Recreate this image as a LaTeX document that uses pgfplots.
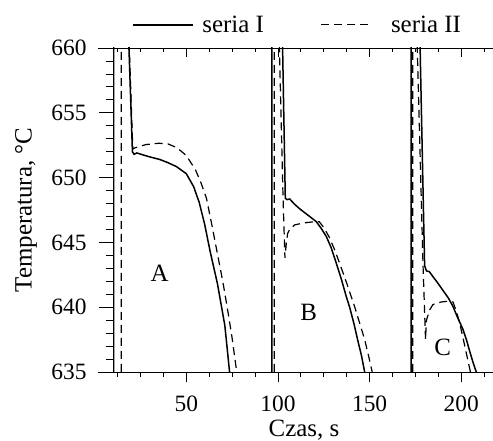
\documentclass[border=0pt]{standalone}
\usepackage{fontspec}
\setmainfont{Liberation Serif}
\usepackage{pgfplots}
\pgfplotsset{compat=1.18}
\begin{document}
\begin{tikzpicture}
\pgfplotsset{
  common/.style={
    scale only axis, width=382bp, height=324bp,
    xmin=10, xmax=218.4, ymin=635, ymax=660,
    xtick={0,50,...,250}, minor x tick num=3,
    ytick={635,640,...,660}, minor y tick num=4,
    /pgf/number format/assume math mode=true,
    every tick/.style={black, line width=0.8bp},
    every minor tick/.style={black, line width=0.8bp},
  },
  s1/.style={black, line width=1.5bp},
  s2/.style={black, line width=1.2bp, dash pattern=on 8bp off 5bp},
  s2leg/.style={legend image code/.code={\draw[##1] (0bp,0bp) -- (50bp,0bp); \path (67bp,0bp);}},
}
\begin{axis}[common, name=main,
  axis lines=box, separate axis lines,
  axis line style={line width=0.9bp},
  x axis line style={shorten <=-15bp},
  xtick pos=left, xtick align=outside,
  major tick length=10bp, minor tick length=5bp,
  ytick=\empty,
  xticklabel style={font=\fontsize{23.5}{27}\selectfont, yshift=-10bp},
  legend columns=2,
  legend style={at={(axis description cs:0.02,1)}, anchor=south west, xshift=8bp, yshift=10bp, draw=none, fill=none,
    font=\fontsize{25}{30}\selectfont,
    /tikz/every even column/.append style={column sep=55bp}},
  legend image code/.code={\draw[#1] (0bp,0bp) -- (60bp,0bp); \path (67bp,0bp);},
]
% group A
\addplot[s1] coordinates {(10.3,634) (10.3,661) (17.5,661) (18.7,660) (20.6,652.0) (21.5,651.8) (23,651.9) (26.4,651.75) (30,651.6) (35.5,651.4) (40,651.15) (44.6,650.85) (50,650.3) (54,649.3) (57,648.1) (60,646.4) (63,644.3) (67,641.8) (71,638.6) (73.6,635) (74,634.4)};
\addlegendentry{seria I}
\addplot[s2, s2leg] coordinates {(14.5,634) (14.5,661) (18.4,661) (18.9,660) (20.8,652.2) (22,652.3) (28,652.55) (35,652.65) (40,652.6) (45,652.3) (50,651.7) (55,650.6) (58,649.6) (61,648.4) (64,646.3) (67,644.1) (70,641.9) (73,639.4) (75,637.6) (77.5,635) (77.8,634.4)};
\addlegendentry{seria II}
% group B
\addplot[s1, forget plot] coordinates {(96.7,634) (96.7,661) (102.4,661) (104,648.4) (105,648.3) (106.4,648.35) (109,647.95) (111.8,647.6) (114.5,647.3) (117.3,647.0) (120.9,646.6) (123.5,646.1) (126.4,645.45) (129,644.6) (131.8,643.4) (134.5,642.2) (137.3,640.8) (139.1,640.0) (141.5,638.7) (143.6,637.4) (145.5,636.3) (147.3,635) (147.6,634.4)};
\addplot[s2, forget plot] coordinates {(98,634) (98,661) (100.6,661) (102.8,648.3) (103.8,643.8) (104.6,645.0) (105.3,645.7) (106.4,646.0) (109.1,646.35) (114,646.5) (120,646.6) (122.5,646.6) (125,646.15) (128,645.4) (131,644.4) (133.6,643.4) (137.5,641.85) (141.8,640.05) (144.5,638.8) (147.3,637.5) (149.5,636.2) (151.4,635) (151.8,634.4)};
% group C
\addplot[s1, forget plot] coordinates {(172.7,634) (172.7,661) (177.4,661) (180.0,643.2) (181,642.8) (182.5,642.75) (184.6,642.35) (187,641.9) (190,641.3) (193,640.7) (195.5,640.05) (198,639.2) (200.9,638.3) (202.8,637.5) (204.6,636.6) (206.5,635.7) (208.2,635) (208.5,634.5)};
\addplot[s2, forget plot] coordinates {(173.5,634) (173.5,661) (175.8,661) (177.5,652) (179.1,643.4) (180.5,637.5) (181,639.0) (182.8,639.8) (184.5,640.2) (186.4,640.3) (189,640.4) (191.8,640.45) (194,640.45) (195.5,640.4) (197.5,639.6) (199.1,638.8) (201,637.6) (203,636.3) (205,635) (205.3,634.5)};
\node[font=\fontsize{25}{29}\selectfont] at (axis cs:35.5,642.65) {A};
\node[font=\fontsize{25}{29}\selectfont] at (axis cs:116.7,639.6) {B};
\node[font=\fontsize{25}{29}\selectfont] at (axis cs:189.8,636.9) {C};
\end{axis}
\begin{axis}[common, at={(main.south west)}, anchor=south west,
  axis line style={draw=none},
  xtick=\empty,
  ytick pos=left, ytick align=outside,
  major tick length=14bp, minor tick length=7bp,
  yticklabel style={font=\fontsize{23.5}{27}\selectfont, xshift=-9bp},
  ylabel={Temperatura, °C},
  ylabel style={font=\fontsize{25}{30}\selectfont, at={(axis description cs:-0.228,0.5)}, anchor=center},
]
\end{axis}
\begin{axis}[common, at={(main.south west)}, anchor=south west,
  axis line style={draw=none},
  ytick=\empty,
  xtick pos=right, xtick align=inside,
  major tick length=9bp, minor tick length=4bp,
  xticklabels={},
]
\end{axis}
\node[font=\fontsize{25}{30}\selectfont, anchor=base] at ([shift={(191bp,-64bp)}]main.south west) {Czas, s};
\pgfresetboundingbox
\path[use as bounding box] ([shift={(-113bp,-69bp)}]main.south west) rectangle ([shift={(380bp,372bp)}]main.south west);
\end{tikzpicture}
\end{document}
